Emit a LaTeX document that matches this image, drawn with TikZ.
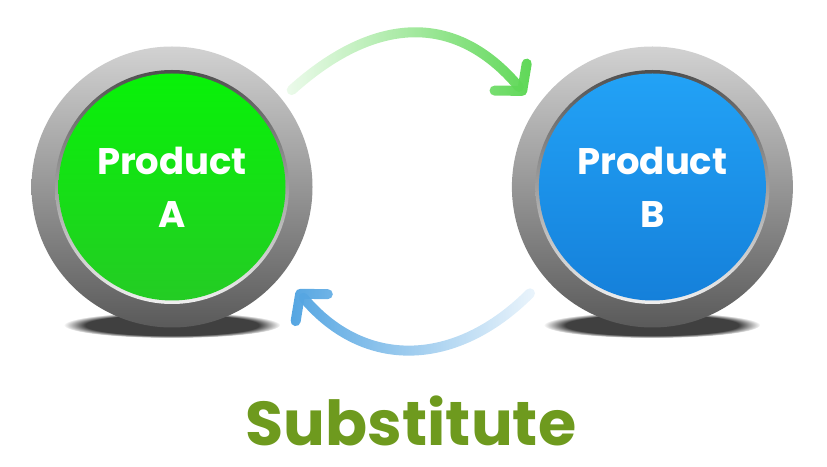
\documentclass[tikz,border=0pt]{standalone}
\usepackage{fontspec}
\usepackage{xcolor}
\usetikzlibrary{positioning,arrows.meta,fadings}
\newfontfamily\buttonfont{Poppins}
\definecolor{ringlight}{HTML}{D2D2D2}
\definecolor{ringdark}{HTML}{5A5A5A}
\definecolor{greentop}{HTML}{08F208}
\definecolor{greenbottom}{HTML}{24CC24}
\definecolor{bluetop}{HTML}{22A2F6}
\definecolor{bluebottom}{HTML}{1580DA}
\definecolor{arrowgreen}{HTML}{60D858}
\definecolor{arrowblue}{HTML}{56A6E2}
\definecolor{olivetext}{HTML}{6E9A1E}
\tikzfading[name=fadein, left color=transparent!88, right color=transparent!0]
\tikzfading[name=fadeout, left color=transparent!0, right color=transparent!88]
\tikzset{
    button/.style={
        circle,
        minimum size=281pt,
        inner sep=0pt,
        top color=ringlight,
        bottom color=ringdark,
        text=white,
        align=center,
        font={\buttonfont\bfseries\fontsize{37pt}{53pt}\selectfont},
        path picture={
            \shade[top color=black!75, bottom color=white]
                (path picture bounding box.center) circle (117pt);
            \shade[top color=#1top, bottom color=#1bottom]
                (path picture bounding box.center) circle (113.5pt);
        }
    },
    shadow/.style={fill=black!75, path fading=circle with fuzzy edge 20 percent},
    swap/.style={
        line width=10pt,
        line cap=round,
        -{Straight Barb[length=18pt, width=42pt, round]}
    },
    title/.style={
        text=olivetext,
        inner sep=0pt,
        font={\buttonfont\bfseries\fontsize{62pt}{62pt}\selectfont}
    },
}
\begin{document}
\begin{tikzpicture}[x=1pt, y=1pt]
\useasboundingbox (0,0) rectangle (827,466);

% Shadows
\fill[shadow] (172,141) ellipse (108pt and 13pt);
\fill[shadow] (652,141) ellipse (108pt and 13pt);

% Products
\node[button=green] (prodA) at (172,279) {Product\\A};
\node[button=blue, right=199pt of prodA] (prodB) {Product\\B};

% Arrow ends
\coordinate (topstart) at ([shift={(39:154)}]prodA.center);
\coordinate (topend) at ([shift={(144:157)}]prodB.center);
\coordinate (botstart) at ([shift={(221:162)}]prodB.center);
\coordinate (botend) at ([shift={(-39.5:162)}]prodA.center);

% Substitution arrows
\draw[swap, arrowgreen, path fading=fadein] (topstart) to[out=42, in=130, looseness=1.2] (topend);
\draw[swap, arrowblue, path fading=fadeout] (botstart) to[out=225, in=-50, looseness=1.15] (botend);

% Caption
\node[title, anchor=base] (subst) at (411,21) {Substitute};
\end{tikzpicture}
\end{document}
